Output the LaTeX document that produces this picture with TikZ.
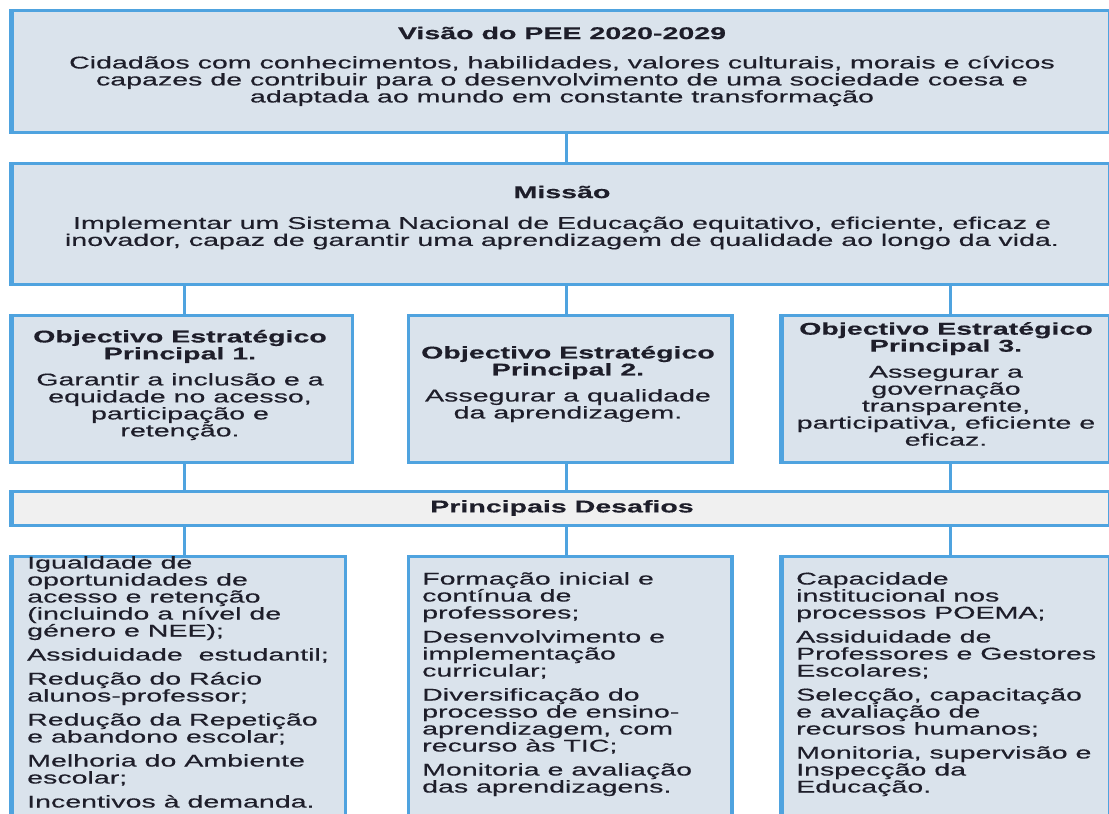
\documentclass[tikz,border=0pt]{standalone}
\usepackage{fontspec}
\setmainfont{Liberation Sans}[FakeStretch=1.68, FakeBold=0.4]
\definecolor{bordc}{HTML}{4FA3DF}
\definecolor{fillc}{HTML}{DAE3EC}
\definecolor{pdfill}{HTML}{F0F0F0}
\definecolor{txtc}{HTML}{1E1E2A}
\tikzset{
 boxn/.style={draw=bordc, line width=2.5pt, fill=fillc, rectangle, inner sep=0pt, anchor=north west},
 pdbox/.style={boxn, fill=pdfill},
 link/.style={draw=bordc, line width=3pt},
 thickedge/.style={draw=bordc, line width=4.5pt},
 ttl/.style={font=\fontsize{17}{17}\selectfont\bfseries, text=txtc, align=center, inner sep=0pt},
 txt/.style={font=\fontsize{17}{17}\selectfont, text=txtc, align=center, inner sep=0pt},
 ltxt/.style={font=\fontsize{17}{17}\selectfont, text=txtc, align=left, inner sep=0pt, anchor=north west},
}
\begin{document}
\begin{tikzpicture}[x=1pt,y=-1pt]
\useasboundingbox (0,0) rectangle (1109,814);
\clip (0,0) rectangle (1109,814);
\coordinate (colA) at (184,0);
\coordinate (colB) at (566,0);
\coordinate (colC) at (950,0);
% boxes
\node[boxn, minimum width=1098pt, minimum height=122pt] (vis) at (10,9) {};
\node[boxn, minimum width=1098pt, minimum height=121pt] (mis) at (10,162) {};
\node[boxn, minimum width=341pt, minimum height=147pt] (o1) at (10,314) {};
\node[boxn, minimum width=323pt, minimum height=147pt] (o2) at (407,314) {};
\node[boxn, minimum width=328pt, minimum height=147pt] (o3) at (780,314) {};
\node[pdbox, minimum width=1098pt, minimum height=34pt] (pd) at (10,490) {};
\node[boxn, minimum width=334pt, minimum height=300pt] (d1) at (10,555) {};
\node[boxn, minimum width=323pt, minimum height=300pt] (d2) at (407,555) {};
\node[boxn, minimum width=328pt, minimum height=300pt] (d3) at (780,555) {};
% thicker edges
\foreach \b in {vis,mis,o1,o3,pd,d1,d3}{
  \draw[thickedge] ([xshift=1.5pt]\b.north west) -- ([xshift=1.5pt]\b.south west);
}
\foreach \b in {o2,d2}{
  \draw[thickedge] ([xshift=-0.5pt]\b.north east) -- ([xshift=-0.5pt]\b.south east);
}
% connectors
\draw[link] (vis.south -| colB) -- (mis.north -| colB);
\draw[link] (mis.south -| colA) -- (o1.north -| colA);
\draw[link] (mis.south -| colB) -- (o2.north -| colB);
\draw[link] (mis.south -| colC) -- (o3.north -| colC);
\draw[link] (o1.south -| colA) -- (pd.north -| colA);
\draw[link] (o2.south -| colB) -- (pd.north -| colB);
\draw[link] (o3.south -| colC) -- (pd.north -| colC);
\draw[link] (pd.south -| colA) -- (d1.north -| colA);
\draw[link] (pd.south -| colB) -- (d2.north -| colB);
\draw[link] (pd.south -| colC) -- (d3.north -| colC);
% texts
\node[ttl] (vtitle) at (562,33) {Visão do PEE 2020-2029};
\node[txt] (vbody) at (562,81) {Cidadãos com conhecimentos, habilidades, valores culturais, morais e cívicos\\capazes de contribuir para o desenvolvimento de uma sociedade coesa e\\adaptada ao mundo em constante transformação};
\node[ttl] (mtitle) at (562,192) {Missão};
\node[txt] (mbody) at (562,233) {Implementar um Sistema Nacional de Educação equitativo, eficiente, eficaz e\\inovador, capaz de garantir uma aprendizagem de qualidade ao longo da vida.};
\node[txt] (o1t) at (180,385) {\textbf{Objectivo Estratégico}\\\textbf{Principal 1.}\\[9pt]Garantir a inclusão e a\\equidade no acesso,\\participação e\\retenção.};
\node[txt] (o2t) at (568,384) {\textbf{Objectivo Estratégico}\\\textbf{Principal 2.}\\[9pt]Assegurar a qualidade\\da aprendizagem.};
\node[txt] (o3t) at (946,384) {\textbf{Objectivo Estratégico}\\\textbf{Principal 3.}\\[9pt]Assegurar a\\governação\\transparente,\\participativa, eficiente e\\eficaz.};
\node[ttl] (pdt) at (562,508) {Principais Desafios};
\node[ltxt] (d1t) at (27,556) {Igualdade de\\oportunidades de\\acesso e retenção\\(incluindo a nível de\\género e NEE);\\[7pt]Assiduidade\ \ estudantil;\\[7pt]Redução do Rácio\\alunos-professor;\\[7pt]Redução da Repetição\\e abandono escolar;\\[7pt]Melhoria do Ambiente\\escolar;\\[7pt]Incentivos à demanda.};
\node[ltxt] (d2t) at (422,572) {Formação inicial e\\contínua de\\professores;\\[7pt]Desenvolvimento e\\implementação\\curricular;\\[7pt]Diversificação do\\processo de ensino-\\aprendizagem, com\\recurso às TIC;\\[7pt]Monitoria e avaliação\\das aprendizagens.};
\node[ltxt] (d3t) at (796,572) {Capacidade\\institucional nos\\processos POEMA;\\[7pt]Assiduidade de\\Professores e Gestores\\Escolares;\\[7pt]Selecção, capacitação\\e avaliação de\\recursos humanos;\\[7pt]Monitoria, supervisão e\\Inspecção da\\Educação.};
\end{tikzpicture}
\end{document}
